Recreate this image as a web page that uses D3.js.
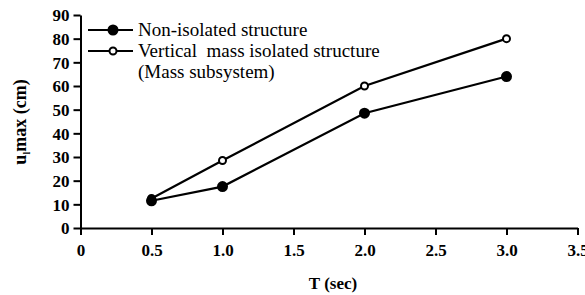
<!DOCTYPE html>
<html>
<head>
  <script src="https://d3js.org/d3.v7.min.js"></script>
  <style>
    body { margin: 0; background: white; }
  </style>
</head>
<body>
  <svg id="chart" width="585" height="295"></svg>
  <script>
    const periods = [0.5, 1.0, 2.0, 3.0];
    const nonIsolated = [11.5, 17.5, 48.5, 64];
    const verticalIsolated = [12.5, 28.5, 60, 80];
    const xTicks = [0, 0.5, 1.0, 1.5, 2.0, 2.5, 3.0, 3.5];
    const yTicks = [0, 10, 20, 30, 40, 50, 60, 70, 80, 90];

    const serif = "Liberation Serif";

    const svg = d3.select("#chart");
    const x = d3.scaleLinear().domain([0, 3.5]).range([80.5, 577.5]);
    const y = d3.scaleLinear().domain([0, 90]).range([228, 15]);

    const xAxis = d3.axisBottom(x).tickValues(xTicks).tickSize(7).tickSizeOuter(0)
      .tickFormat(d => d === 0 ? "0" : d3.format(".1f")(d));
    const yAxis = d3.axisLeft(y).tickValues(yTicks).tickSize(7).tickSizeOuter(0);

    const gx = svg.append("g").attr("transform", `translate(0,${y(0)})`).call(xAxis);
    const gy = svg.append("g").attr("transform", `translate(${x(0)},0)`).call(yAxis);

    [gx, gy].forEach(g => {
      g.attr("font-family", serif).attr("font-size", 17);
      g.selectAll("path, line").attr("stroke", "#000").attr("stroke-width", 2);
      g.selectAll("text").attr("font-weight", "bold").attr("fill", "#000");
    });
    gx.selectAll("text").attr("dy", "1.05em");
    gy.selectAll("text").attr("x", -11).attr("dy", "0.35em");

    // axis titles
    svg.append("text")
      .attr("x", 333).attr("y", 289)
      .attr("text-anchor", "middle")
      .attr("font-family", serif).attr("font-size", 17).attr("font-weight", "bold")
      .text("T (sec)");

    const yl = svg.append("text")
      .attr("transform", "translate(26,122) rotate(-90)")
      .attr("text-anchor", "middle")
      .attr("font-family", serif).attr("font-size", 18).attr("font-weight", "bold");
    yl.append("tspan").text("u");
    yl.append("tspan").attr("font-size", 10).attr("dy", 4).text("l");
    yl.append("tspan").attr("dy", -4).text("max (cm)");

    const line = d3.line().x((d, i) => x(periods[i])).y(d => y(d));

    const series = [
      { values: nonIsolated, fill: "#000", r: 4.5 },
      { values: verticalIsolated, fill: "#fff", r: 3.5 }
    ];

    series.slice().reverse().forEach(s => {
      svg.append("path").datum(s.values)
        .attr("d", line).attr("fill", "none")
        .attr("stroke", "#000").attr("stroke-width", 2.2);
    });
    series.slice().reverse().forEach(s => {
      svg.append("g").selectAll("circle").data(s.values).join("circle")
        .attr("cx", (d, i) => x(periods[i])).attr("cy", d => y(d))
        .attr("r", s.r).attr("fill", s.fill)
        .attr("stroke", "#000").attr("stroke-width", 2);
    });

    // legend
    const legendItems = [
      { label: ["Non-isolated structure"], fill: "#000", r: 4.5, y: 30 },
      { label: ["Vertical  mass isolated structure", "(Mass subsystem)"], fill: "#fff", r: 3.5, y: 51 }
    ];
    const lg = svg.append("g");
    legendItems.forEach(item => {
      lg.append("line").attr("x1", 88).attr("x2", 133).attr("y1", item.y).attr("y2", item.y)
        .attr("stroke", "#000").attr("stroke-width", 2);
      lg.append("circle").attr("cx", 113).attr("cy", item.y).attr("r", item.r)
        .attr("fill", item.fill).attr("stroke", "#000").attr("stroke-width", 2);
      item.label.forEach((t, i) => {
        lg.append("text").attr("x", 138).attr("y", item.y + 6 + i * 21)
          .attr("font-family", serif).attr("font-size", 19)
          .attr("xml:space", "preserve").style("white-space", "pre").text(t);
      });
    });
  </script>
</body>
</html>
